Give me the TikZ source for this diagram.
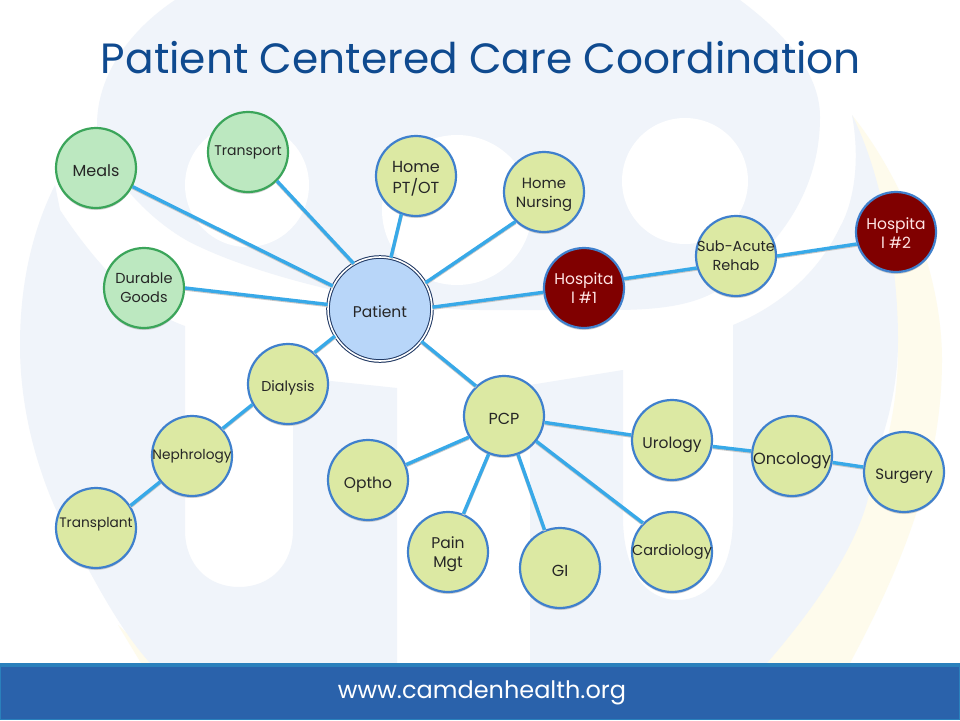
\documentclass[tikz,border=0pt]{standalone}
\usepackage{fontspec}
\setmainfont{Poppins}
\usetikzlibrary{shadows}
\definecolor{pale}{HTML}{F0F4FA}
\definecolor{yel}{HTML}{FEFBEC}
\definecolor{conn}{HTML}{38A9E8}
\definecolor{limefill}{HTML}{DCE9A3}
\definecolor{bluestroke}{HTML}{3F80CD}
\definecolor{greenfill}{HTML}{BCE8C0}
\definecolor{greenstroke}{HTML}{3BA55A}
\definecolor{redfill}{HTML}{800000}
\definecolor{patfill}{HTML}{B8D6F9}
\definecolor{navy}{HTML}{1F3864}
\definecolor{titleblue}{HTML}{0F4A8F}
\definecolor{bandblue}{HTML}{2A62AB}
\definecolor{bandedge}{HTML}{2A80BC}
\newcommand\lbl[3][15.5]{\makebox[0pt][c]{\raisebox{#2pt}[0pt][0pt]{\fontsize{#1}{19}\selectfont\begin{tabular}{@{}c@{}}#3\end{tabular}}}}
\tikzset{
  base/.style={circle,minimum size=80pt,inner sep=0pt,line width=2.2pt,text=black!85,
    drop shadow={opacity=.35,shadow xshift=0pt,shadow yshift=-2pt}},
  lime/.style={base,fill=limefill,draw=bluestroke},
  mint/.style={base,fill=greenfill,draw=greenstroke},
  crimson/.style={base,fill=redfill,draw=bluestroke,text=white!90!red},
  patientnode/.style={base,minimum size=104pt,fill=patfill,draw=navy,double=white,double distance=1.6pt,line width=1pt},
  link/.style={conn,line width=3.4pt,
    preaction={draw=black!22,line width=3.4pt,transform canvas={yshift=-1pt}}},
}
\begin{document}
\begin{tikzpicture}[x=1pt,y=-1pt]
\useasboundingbox (0,0) rectangle (960,720);
\fill[white] (0,0) rectangle (960,720);
% watermark
\fill[yel] (852,115) .. controls (900,175) and (942,270) .. (942,360) .. controls (942,470) and (900,570) .. (850,663) -- (767,663) .. controls (850,560) and (898,460) .. (898,350) .. controls (898,270) and (880,180) .. (852,115) -- cycle;
\fill[yel] (118,625) -- (160,663) -- (141,663) -- cycle;
\fill[pale] (175,0) .. controls (130,30) and (97,75) .. (97,125) .. controls (100,175) and (160,230) .. (200,247) .. controls (270,280) and (400,310) .. (480,310) -- (613,310) .. controls (660,310) and (690,305) .. (713,293) .. controls (780,250) and (820,190) .. (820,117) .. controls (820,70) and (780,30) .. (740,0) -- cycle;
\fill[pale] (852,115) .. controls (862,170) and (850,210) .. (840,227) .. controls (815,280) and (770,310) .. (733,325) -- (733,517) .. controls (733,570) and (710,600) .. (678,600) .. controls (645,600) and (623,570) .. (623,517) -- (623,370) -- (530,385) -- (530,663) -- (767,663) .. controls (830,590) and (873,520) .. (873,463) .. controls (890,420) and (898,380) .. (898,340) .. controls (898,260) and (880,170) .. (852,115) -- cycle;
\fill[pale] (55,185) .. controls (30,235) and (20,290) .. (20,345) .. controls (20,430) and (50,510) .. (85,563) .. controls (105,600) and (125,635) .. (150,663) -- (397,663) -- (397,388) -- (293,377) -- (293,530) .. controls (293,565) and (270,587) .. (239,587) .. controls (208,587) and (185,565) .. (185,530) -- (185,326) .. controls (140,310) and (100,270) .. (60,210) -- cycle;
\fill[white] (247,185) circle (62);
\fill[white] (685,181) circle (63);
\fill[white] (457,210) circle (75);
% title
\node[text=titleblue,font=\fontsize{42.3}{50}\selectfont,inner sep=0pt] (title) at (481,58) {Patient Centered Care Coordination};
% footer
\fill[bandedge] (0,663) rectangle (960,720);
\fill[bandblue] (1,667) rectangle (959,719);
\node[text=white,font=\fontsize{24}{28}\selectfont,inner sep=0pt] (url) at (482,693) {www.camdenhealth.org};
% nodes
\node[patientnode] (patient) at (380,309) {\lbl[15.5]{-8}{Patient}};
\node[mint] (meals) at (96,168) {\lbl[16]{-9}{Meals}};
\node[mint] (transport) at (248,152) {\lbl[14]{-3}{Transport}};
\node[lime] (homept) at (416,176) {\lbl[16]{-7.5}{Home\\PT/OT}};
\node[lime] (homenurse) at (544,192) {\lbl[14.8]{-6}{Home\\Nursing}};
\node[mint] (durable) at (144,288) {\lbl[14.5]{-4.5}{Durable\\Goods}};
\node[crimson] (hosp1) at (584,288) {\lbl{-6}{Hospita\\l \#1}};
\node[lime] (subacute) at (736,256) {\lbl[14.5]{-5}{Sub-Acute\\Rehab}};
\node[crimson] (hosp2) at (896,232) {\lbl{-7}{Hospita\\l \#2}};
\node[lime] (dialysis) at (288,384) {\lbl[14.3]{-7}{Dialysis}};
\node[lime] (pcp) at (504,416) {\lbl[16]{-9}{PCP}};
\node[lime] (neph) at (192,456) {\lbl[13.7]{-3}{Nephrology}};
\node[lime] (transplant) at (96,528) {\lbl[13.7]{1}{Transplant}};
\node[lime] (optho) at (368,480) {\lbl{-8}{Optho}};
\node[lime] (pain) at (448,552) {\lbl{-6}{Pain\\Mgt}};
\node[lime] (gi) at (560,568) {\lbl[16]{-9}{GI}};
\node[lime] (cardio) at (672,552) {\lbl[14.5]{-3}{Cardiology}};
\node[lime] (urology) at (672,440) {\lbl{-8}{Urology}};
\node[lime] (oncology) at (792,456) {\lbl[16.2]{-9}{Oncology}};
\node[lime] (surgery) at (904,472) {\lbl[15]{-7}{Surgery}};
% connectors
\foreach \a/\b in {meals.-27/patient.154,transport.-45/patient.120,homept.-111/patient.78,homenurse.-134/patient.30,durable.0/patient.175,hosp1.186/patient.2,dialysis.50/patient.211,pcp.133/patient.-38,hosp1.13/subacute.197,subacute.0/hosp2.197,dialysis.210/neph.42,neph.219/transplant.33,optho.22/pcp.211,pain.68/pcp.248,gi.112/pcp.-70,cardio.135/pcp.-38,pcp.-9/urology.173,urology.-9/oncology.173,oncology.-9/surgery.173}
  \draw[link] (\a) -- (\b);
\end{tikzpicture}
\end{document}
